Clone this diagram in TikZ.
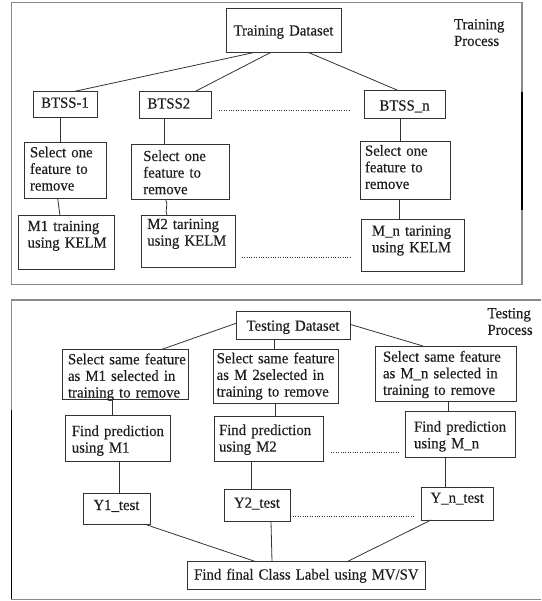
\documentclass[tikz,border=0pt]{standalone}
\usepackage{fontspec}
\setmainfont{Liberation Serif}[FakeStretch=0.96,FakeBold=0.35]
\newcommand\dgfont{\fontsize{15.4pt}{16.6pt}\selectfont}
\newcommand\hs[1]{\hspace*{#1pt}}
\definecolor{boxc}{HTML}{333333}
\definecolor{framec}{HTML}{8A8A8A}
\definecolor{textc}{HTML}{1E1E1E}
\tikzset{
  bx/.style={draw=boxc, line width=0.9pt, inner sep=0pt, outer sep=0pt, anchor=north west, font=\dgfont, text=textc},
  lnk/.style={draw=boxc, line width=0.8pt},
  dotl/.style={draw=boxc, line width=0.9pt, dash pattern=on 0.9pt off 1.5pt},
  frm/.style={draw=framec, line width=1.4pt},
  dark/.style={draw=black, line width=1.8pt},
  lbl/.style={inner sep=0pt, outer sep=0pt, anchor=base west, font=\dgfont, text=textc, align=left, text width=70pt},
}
\begin{document}
\begin{tikzpicture}[x=1pt,y=-1pt]
\useasboundingbox (0,0) rectangle (541,601);
% panel frames
\draw[frm] (11.4,2.7) rectangle (522,284.3);
\draw[dark] (522,92) -- (522,210);
\draw[frm] (541,300) -- (11.4,300) -- (11.4,599.3) -- (541,599.3);
\draw[dark] (11.4,410) -- (11.4,599.3);

% ---------- training ----------
\node[bx, text width=115pt, text height=27.2pt, text depth=16.8pt, align=center] (td) at (226,8.3) {Training Dataset};
\node[lbl] (tp) at (454,29.3) {Training\\Process};

\node[bx, text width=64pt, text height=16.2pt, text depth=9.3pt, align=center] (b1) at (33,91.5) {BTSS-1};
\node[bx, text width=71.5pt, text height=17pt, text depth=9.5pt, align=left] (b2) at (139.5,91.5) {\hs{8}BTSS2};
\node[bx, text width=81pt, text height=20.5pt, text depth=7.8pt, align=center] (bn) at (364,90) {BTSS\_n};

\node[bx, text width=82.5pt, text height=14.8pt, text depth=40.7pt, align=left] (s1) at (24,142.5) {\hs{6}Select one\\\hs{6}feature to\\\hs{6}remove};
\node[bx, text width=98pt, text height=16.7pt, text depth=38.5pt, align=left] (s2) at (131.5,144.3) {\hs{11.8}Select one\\\hs{11.8}feature to\\\hs{11.8}remove};
\node[bx, text width=90.7pt, text height=14.7pt, text depth=43.8pt, align=left] (sn) at (360,141) {\hs{5}Select one\\\hs{5}feature to\\\hs{5}remove};

\node[bx, text width=96pt, text height=15.3pt, text depth=38pt, align=left] (m1) at (18,215.7) {\hs{9.6}M1 training\\\hs{9.6}using KELM};
\node[bx, text width=94pt, text height=13.3pt, text depth=38.7pt, align=left] (m2) at (141.7,215.7) {\hs{5.6}M2 tarining\\\hs{5.6}using KELM};
\node[bx, text width=103pt, text height=16.4pt, text depth=36pt, align=left] (mn) at (361,219.3) {\hs{11}M\_n tarining\\\hs{11}using KELM};

\draw[lnk] ([xshift=29pt]td.south west) -- ([xshift=41pt]b1.north west);
\draw[lnk] ([xshift=45pt]td.south west) -- ([xshift=55.5pt]b2.north west);
\draw[lnk] ([xshift=82pt]td.south west) -- ([xshift=33pt]bn.north west);
\draw[lnk] ([xshift=27.7pt]b1.south west) coordinate (t1) -- (t1 |- s1.north);
\draw[lnk] ([xshift=25.2pt]b2.south west) coordinate (t2) -- (t2 |- s2.north);
\draw[lnk] ([xshift=36pt]bn.south west) coordinate (t3) -- (t3 |- sn.north);
\draw[lnk] ([xshift=33.6pt]s1.south west) -- ([xshift=42pt]m1.north west);
\draw[lnk] ([xshift=34.2pt]s2.south west) to[out=-60,in=115] ([xshift=25.3pt]m2.north west);
\draw[lnk] ([xshift=39pt]sn.south west) coordinate (t4) -- (t4 |- mn.north);

\coordinate (d1a) at (219,110.7); \coordinate (d1b) at (349,110.7);
\draw[dotl] (d1a) -- (d1b);
\coordinate (d2a) at (241.7,257.5); \coordinate (d2b) at (351,257.5);
\draw[dotl] (d2a) -- (d2b);

% ---------- testing ----------
\node[bx, text width=114pt, text height=19pt, text depth=8.6pt, align=center] (td2) at (236,311.7) {Testing Dataset};
\node[lbl] (tsp) at (487.5,318.3) {Testing\\Process};

\node[bx, text width=126pt, text height=15pt, text depth=35pt, align=left] (ss1) at (62,349.3) {\hs{6}Select same feature\\\hs{6}as M1 selected in\\\hs{6}training to remove};
\node[bx, text width=125pt, text height=14pt, text depth=40pt, align=left] (ss2) at (213,349.3) {\hs{3.7}Select same feature\\\hs{3.7}as M 2selected in\\\hs{3.7}training to remove};
\node[bx, text width=141.5pt, text height=15.7pt, text depth=39.3pt, align=left] (ssn) at (375,346) {\hs{8}Select same feature\\\hs{8}as M\_n selected in\\\hs{8}training to remove};

\node[bx, text width=104.4pt, text height=21pt, text depth=25pt, align=left] (fp1) at (65.6,415) {\hs{6.2}Find prediction\\\hs{6.2}using M1};
\node[bx, text width=109pt, text height=18.3pt, text depth=26pt, align=left] (fp2) at (214,416.7) {\hs{5}Find prediction\\\hs{5}using M2};
\node[bx, text width=109.5pt, text height=20pt, text depth=25.6pt, align=left] (fpn) at (405.5,411.7) {\hs{8.5}Find prediction\\\hs{8.5}using M\_n};

\node[bx, text width=67pt, text height=16.7pt, text depth=14.3pt, align=center] (y1) at (83,493.3) {Y1\_test};
\node[bx, text width=66pt, text height=18.4pt, text depth=14pt, align=center] (y2) at (224,489.3) {Y2\_test};
\node[bx, text width=72.5pt, text height=15pt, text depth=17.3pt, align=center] (yn) at (421,487.7) {Y\_n\_test};

\node[bx, text width=238.7pt, text height=17.8pt, text depth=9.8pt, align=center] (fin) at (187,561.7) {Find final Class Label using MV/SV};

\draw[lnk] ([yshift=2.2pt]td2.west) -- ([xshift=100pt]ss1.north west);
\draw[lnk] ([xshift=38pt]td2.south west) coordinate (u1) -- (u1 |- ss2.north);
\draw[lnk] ([yshift=1.2pt]td2.east) -- ([xshift=48pt]ssn.north west);
\draw[lnk] ([xshift=50pt]ss1.south west) coordinate (u2) -- (u2 |- fp1.north);
\draw[lnk] ([xshift=62pt]ss2.south west) coordinate (u3) -- (u3 |- fp2.north);
\draw[lnk] ([xshift=73.6pt]ssn.south west) coordinate (u4) -- (u4 |- fpn.north);
\draw[lnk] ([xshift=53.4pt]fp1.south west) coordinate (u5) -- (u5 |- y1.north);
\draw[lnk] ([xshift=37pt]fp2.south west) coordinate (u6) -- (u6 |- y2.north);
\draw[lnk] ([xshift=39.5pt]fpn.south west) coordinate (u7) -- (u7 |- yn.north);
\draw[lnk] ([xshift=62pt]y1.south west) -- ([xshift=69pt]fin.north west);
\draw[lnk] ([xshift=47pt]y2.south west) -- ([xshift=85pt]fin.north west);
\draw[lnk] ([xshift=10pt]yn.south west) -- ([xshift=160pt]fin.north west);

\coordinate (d3a) at (331,452.3); \coordinate (d3b) at (400,452.3);
\draw[dotl] (d3a) -- (d3b);
\coordinate (d4a) at (293,516); \coordinate (d4b) at (414,516);
\draw[dotl] (d4a) -- (d4b);
\end{tikzpicture}
\end{document}
